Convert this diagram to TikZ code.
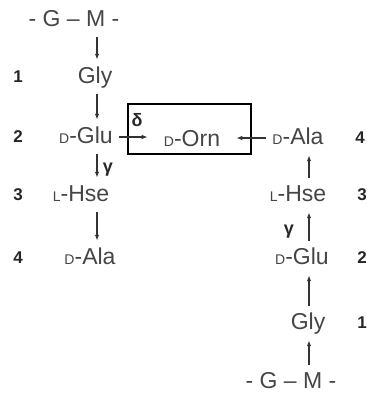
\documentclass[tikz,border=0pt]{standalone}
\usepackage{fontspec}
\setmainfont{Liberation Sans}
\usetikzlibrary{arrows.meta}
\definecolor{txtgray}{HTML}{454545}
\newcommand{\cfg}[1]{{\fontsize{14}{14}\selectfont #1}}

\begin{document}
\begin{tikzpicture}[
  x=1pt, y=-1pt,
  res/.style={inner xsep=6pt, inner ysep=7pt, text height=16pt, text depth=4pt,
              text=txtgray, font=\fontsize{23}{26}\selectfont},
  num/.style={inner sep=1pt, text=black!85, font=\fontsize{17}{19}\selectfont\bfseries},
  link/.style={-{Latex[length=6pt,width=4.5pt]}, line width=1.3pt, draw=black!80},
  lab/.style={inner sep=1pt, text=black!85, font=\fontsize{18}{20}\selectfont\bfseries}
]
  \useasboundingbox (0,0) rectangle (367,397);
  \coordinate (colL) at (97,0);
  \coordinate (colR) at (309,0);

  % left chain
  \node[res] (gmL)  at (74,20)  {- G -- M -};
  \node[res] (glyL) at (95,77)  {Gly};
  \node[res] (gluL) at (86,137) {\cfg{D}-Glu};
  \node[res] (hseL) at (81,195) {\cfg{L}-Hse};
  \node[res] (alaL) at (90,258) {\cfg{D}-Ala};

  \node[num] (n1L) at (18,77)  {1};
  \node[num] (n2L) at (18,137) {2};
  \node[num] (n3L) at (18,195) {3};
  \node[num] (n4L) at (18,258) {4};

  % boxed D-Orn
  \node[draw, line width=1.8pt, minimum width=123pt, minimum height=50pt,
        inner sep=0pt] (ornbox) at (189.5,129) {};
  \node[res] (orn) at (192,140) {\cfg{D}-Orn};
  \node[lab] (delta) at (137,120) {δ};

  % right chain
  \node[res] (alaR) at (298,138) {\cfg{D}-Ala};
  \node[res] (hseR) at (298,195) {\cfg{L}-Hse};
  \node[res] (gluR) at (302,258) {\cfg{D}-Glu};
  \node[res] (glyR) at (308,323) {Gly};
  \node[res] (gmR)  at (291,382) {- G -- M -};

  \node[num] (n4R) at (360,138) {4};
  \node[num] (n3R) at (362,195) {3};
  \node[num] (n2R) at (362,258) {2};
  \node[num] (n1R) at (362,323) {1};

  \node[lab] (gamL) at (108,170) {γ};
  \node[lab] (gamR) at (289,232) {γ};

  \draw[link] (gmL.south -| colL)  -- (glyL.north -| colL);
  \draw[link] (glyL.south -| colL) -- (gluL.north -| colL);
  \draw[link] (gluL.south -| colL) -- (hseL.north -| colL);
  \draw[link] (hseL.south -| colL) -- (alaL.north -| colL);
  \draw[link, shorten >=10pt] (gluL.east) -- (gluL.east -| orn.west);

  \draw[link] (gmR.north -| colR)  -- (glyR.south -| colR);
  \draw[link] (glyR.north -| colR) -- (gluR.south -| colR);
  \draw[link] (gluR.north -| colR) -- (hseR.south -| colR);
  \draw[link] (hseR.north -| colR) -- (alaR.south -| colR);
  \draw[link, shorten >=10pt] (alaR.west) -- (alaR.west -| orn.east);
\end{tikzpicture}
\end{document}
